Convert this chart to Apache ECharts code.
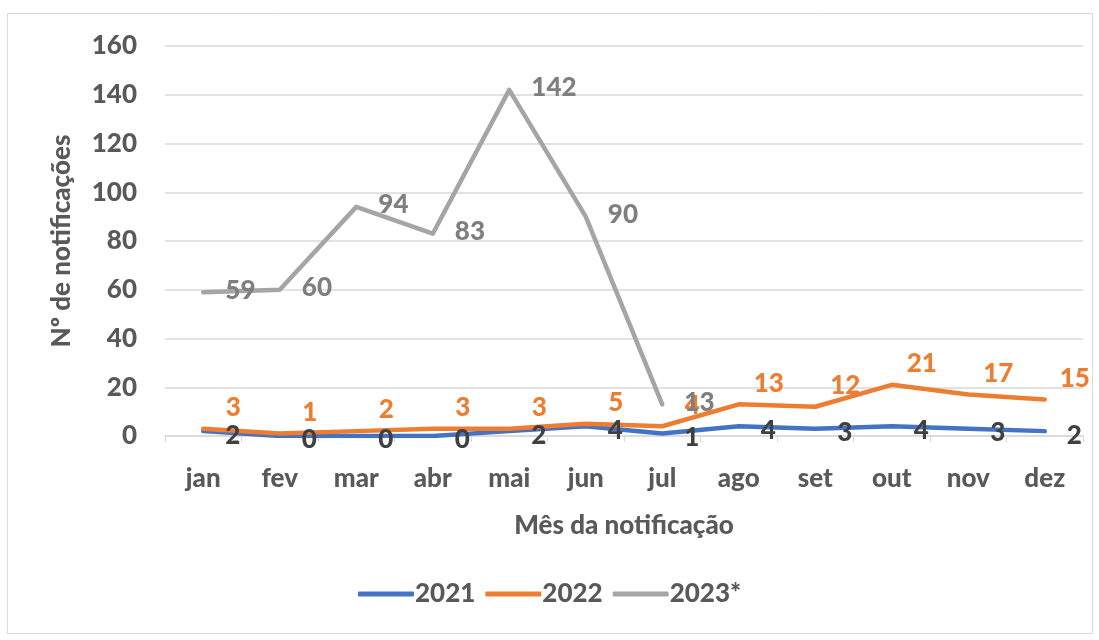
<!DOCTYPE html>
<html>
<head>
<meta charset="utf-8">
<script src="https://cdn.jsdelivr.net/npm/echarts@6/dist/echarts.min.js"></script>
<style>
  html, body { margin: 0; padding: 0; background: #fff; }
  #chart { width: 1099px; height: 640px; }
</style>
</head>
<body>
<div id="chart"></div>
<script>
var months = ["jan", "fev", "mar", "abr", "mai", "jun", "jul", "ago", "set", "out", "nov", "dez"];
var values2021 = [2, 0, 0, 0, 2, 4, 1, 4, 3, 4, 3, 2];
var values2022 = [3, 1, 2, 3, 3, 5, 4, 13, 12, 21, 17, 15];
var values2023 = [59, 60, 94, 83, 142, 90, 13];

var font = "Lato";
var textGray = "#595959";
var fs = 26;
var weight = 900;

var chart = echarts.init(document.getElementById("chart"));

// labels in echarts hang off the symbols, so keep a tiny invisible symbol
function lineSeries(name, data, color, label) {
  return {
    name: name,
    type: "line",
    data: data,
    symbol: "circle",
    symbolSize: 0.1,
    showSymbol: true,
    lineStyle: { color: color, width: 4.5, cap: "round", join: "round" },
    itemStyle: { color: color },
    label: Object.assign({
      show: true,
      fontFamily: font,
      fontWeight: weight,
      fontSize: fs
    }, label)
  };
}

chart.setOption({
  animation: false,
  textStyle: { fontFamily: font },
  graphic: [{
    type: "rect",
    shape: { x: 7.5, y: 13.5, width: 1085, height: 620 },
    style: { fill: "none", stroke: "#D9D9D9", lineWidth: 1 },
    silent: true
  }],
  grid: { left: 165, right: 16, top: 46, bottom: 204 },
  legend: {
    bottom: 28,
    left: "center",
    icon: "roundRect",
    itemWidth: 56,
    itemHeight: 5,
    itemGap: 10,
    textStyle: { color: textGray, fontFamily: font, fontWeight: weight, fontSize: fs, padding: [0, 0, 0, -4] },
    data: ["2021", "2022", "2023*"]
  },
  xAxis: {
    type: "category",
    data: months,
    boundaryGap: true,
    name: "Mês da notificação",
    nameLocation: "middle",
    nameGap: 77,
    nameTextStyle: { color: textGray, fontFamily: font, fontWeight: weight, fontSize: fs },
    axisLine: { lineStyle: { color: "#D9D9D9", width: 1.5 } },
    axisTick: { show: true, length: 6, lineStyle: { color: "#D9D9D9" } },
    axisLabel: { color: textGray, fontFamily: font, fontWeight: weight, fontSize: fs, margin: 30 }
  },
  yAxis: {
    type: "value",
    min: 0,
    max: 160,
    interval: 20,
    name: "Nº de notificações",
    nameLocation: "middle",
    nameGap: 90,
    nameRotate: 90,
    nameTextStyle: { color: textGray, fontFamily: font, fontWeight: weight, fontSize: fs },
    axisLine: { show: false },
    axisTick: { show: false },
    splitLine: { lineStyle: { color: "#D9D9D9", width: 1.5 } },
    axisLabel: { color: textGray, fontFamily: font, fontWeight: weight, fontSize: fs, margin: 28 }
  },
  series: [
    lineSeries("2021", values2021, "#4472C4", { position: "right", distance: 22, offset: [0, 4], color: "#404040" }),
    lineSeries("2022", values2022, "#ED7D31", { position: "top", distance: 6, offset: [30, -2], color: "#ED7D31" }),
    lineSeries("2023*", values2023, "#A5A5A5", { position: "right", distance: 22, offset: [0, -2], color: "#7F7F7F" })
  ]
});
</script>
</body>
</html>
